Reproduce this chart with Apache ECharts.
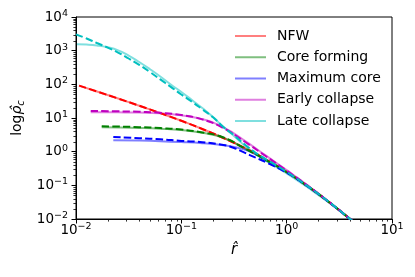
<!DOCTYPE html>
<html><head><meta charset="utf-8">
<script src="https://cdn.jsdelivr.net/npm/echarts@6/dist/echarts.min.js"></script>
<style>html,body{margin:0;padding:0;background:#fff}#c{width:415px;height:277px}</style>
</head><body><div id="c"></div>
<script>
const seriesNames = ['NFW','Core forming','Maximum core','Early collapse','Late collapse'];
const xTickValues = [0.01, 0.1, 1, 10];
const yTickValues = [0.01, 0.1, 1, 10, 100, 1000, 10000];

const nfwR = [0.0107,0.0158,0.0251,0.0398,0.0631,0.1,0.158,0.251,0.398,0.631,1,1.585,2.512,3.981,5.012];
const nfwRho = [91.4,61.3,37.9,23.2,14.0,8.26,4.72,2.55,1.29,0.596,0.25,0.0944,0.0323,0.0101,0.0055];

const coreR = [0.01755,0.0251,0.0398,0.0631,0.1,0.158,0.251,0.398,0.631,1,1.585,2.512,3.981,5.012];
const coreRhoSolid = [5.31,5.25,5.07,4.79,4.37,3.63,2.60,1.26,0.582,0.248,0.0933,0.032,0.0101,0.0055];
const coreRhoDashed = [5.66,5.56,5.35,5.01,4.52,3.72,2.63,1.26,0.575,0.245,0.0933,0.032,0.0101,0.0055];

const maxR = [0.0226,0.0398,0.0631,0.1,0.158,0.251,0.316,0.398,0.501,0.631,1,1.585,2.512,3.981,5.012];
const maxRhoSolid = [2.18,2.13,2.05,1.93,1.78,1.55,1.38,1.15,0.851,0.562,0.245,0.0933,0.032,0.0101,0.0055];
const maxRhoDashed = [2.72,2.51,2.34,2.09,1.91,1.58,1.29,0.933,0.676,0.49,0.237,0.0933,0.032,0.0101,0.0055];

const earlyR = [0.0138,0.0251,0.0398,0.0631,0.1,0.158,0.251,0.398,0.631,1,1.585,2.512,3.981,5.012];
const earlyRhoSolid = [14.8,14.7,14.5,13.8,12.0,9.23,5.25,2.14,0.776,0.282,0.0989,0.0324,0.0101,0.0055];
const earlyRhoDashed = [16.1,15.8,15.3,14.3,12.2,9.12,5.01,2.0,0.741,0.275,0.0977,0.0324,0.0101,0.0055];

const lateRSolid = [0.0102,0.0126,0.0158,0.02,0.0251,0.0316,0.0398,0.0501,0.0631,0.0794,0.1,0.126,0.158,0.2,0.251,0.316,0.398,0.501,0.631,1,1.585,2.512,3.981,5.012];
const lateRhoSolid = [1545,1514,1422,1257,1023,718,460,285,171,98.8,59.2,34.2,19.8,10.7,5.40,2.92,1.52,0.881,0.545,0.226,0.0861,0.0309,0.01,0.0054];
const lateRDashed = [0.01,0.0126,0.0158,0.02,0.0251,0.0316,0.0398,0.0501,0.0631,0.0794,0.1,0.126,0.158,0.2,0.251,0.316,0.398,0.501,0.631,1,1.585,2.512,3.981,5.012];
const lateRhoDashed = [3060,2296,1687,1233,881,585,380,235,140,84.4,50,30.5,18.2,10.5,5.40,3.06,1.66,0.957,0.605,0.251,0.0944,0.0324,0.0101,0.0055];

const lightColors = ['rgba(255,0,0,0.5)','rgba(0,128,0,0.5)','rgba(0,0,255,0.5)','rgba(191,0,191,0.5)','rgba(0,191,191,0.5)'];
const darkColors = ['#ff0000','#008000','#0000ff','#bf00bf','#00bfbf'];

const FONT = 'DejaVu Sans';
function pairs(r, rho){ return r.map((x,i)=>[x, rho[i]]); }
function solid(i, r, rho){
  return {name: seriesNames[i], type:'line', data: pairs(r,rho), symbol:'none', showSymbol:false, smooth:true,
    lineStyle:{color: lightColors[i], width:2}, itemStyle:{color: lightColors[i]}, z:2, silent:true};
}
function dashed(i, r, rho){
  return {name: seriesNames[i] + ' (dashed)', type:'line', data: pairs(r,rho), symbol:'none', showSymbol:false, smooth:true,
    lineStyle:{color: darkColors[i], width:2, type:[7.4,3.2]}, itemStyle:{color: darkColors[i]}, z:3, silent:true};
}
function fmt(v){
  const e = Math.round(Math.log10(v));
  return '{b|10}{s|' + String(e).replace('-', '\u2212') + '}';
}
const tickRich = {
  b:{fontSize:13.5, fontFamily:FONT, color:'#000', lineHeight:17, verticalAlign:'middle'},
  s:{fontSize:9.5, fontFamily:FONT, color:'#000', lineHeight:9, verticalAlign:'top'}
};

const chart = echarts.init(document.getElementById('c'), null, {renderer:'canvas'});
const option = {
  animation:false,
  backgroundColor:'#fff',
  grid:{left:76, right:23, top:17, bottom:58, show:true, borderColor:'#000', borderWidth:1, containLabel:false, outerBoundsMode:'none'},
  legend:{data: seriesNames.map((n,i)=>({name:n, itemStyle:{color:lightColors[i]}})), orient:'vertical', left:230, top:24, icon:'rect', itemWidth:31, itemHeight:2, itemGap:7.25,
    selectedMode:false, textStyle:{fontFamily:FONT, fontSize:14, color:'#000', lineHeight:14, padding:[0,0,0,6]}},
  xAxis:{type:'log', logBase:10, min:xTickValues[0], max:xTickValues[xTickValues.length-1], interval:1,
    name:'r\u0302', nameLocation:'middle', nameGap:22,
    nameTextStyle:{fontFamily:FONT, fontSize:15, fontStyle:'italic', color:'#000'},
    axisLine:{show:true, lineStyle:{color:'#000', width:1}},
    axisTick:{show:true, length:4.5, lineStyle:{color:'#000', width:1}},
    splitLine:{show:false},
    axisLabel:{margin:3, formatter:fmt, rich:tickRich, color:'#000'}},
  yAxis:{type:'log', logBase:10, min:yTickValues[0], max:yTickValues[yTickValues.length-1], interval:1,
    name:'{t|log}{r|\u03c1\u0302}{c|c}', nameLocation:'middle', nameGap:38, nameRotate:90,
    nameTextStyle:{rich:{
      t:{fontFamily:FONT, fontSize:14, color:'#000', verticalAlign:'middle', lineHeight:18},
      r:{fontFamily:FONT, fontSize:14, fontStyle:'italic', color:'#000', verticalAlign:'middle', lineHeight:18},
      c:{fontFamily:FONT, fontSize:10, fontStyle:'italic', color:'#000', verticalAlign:'bottom', lineHeight:12}}},
    axisLine:{show:true, lineStyle:{color:'#000', width:1}},
    axisTick:{show:true, length:4.5, lineStyle:{color:'#000', width:1}},
    splitLine:{show:false},
    axisLabel:{margin:8, formatter:fmt, rich:tickRich, color:'#000'}},
  series:[
    solid(0, nfwR, nfwRho), solid(1, coreR, coreRhoSolid), solid(2, maxR, maxRhoSolid),
    solid(3, earlyR, earlyRhoSolid), solid(4, lateRSolid, lateRhoSolid),
    dashed(0, nfwR, nfwRho), dashed(1, coreR, coreRhoDashed), dashed(2, maxR, maxRhoDashed),
    dashed(3, earlyR, earlyRhoDashed), dashed(4, lateRDashed, lateRhoDashed)
  ]
};
chart.setOption(option);

// minor ticks placed through the axes' own scale
const g = [];
const x0 = chart.convertToPixel({yAxisIndex:0}, yTickValues[0]);
const yLeft = chart.convertToPixel({xAxisIndex:0}, xTickValues[0]);
for (let d = 0; d < xTickValues.length - 1; d++) {
  for (let k = 2; k <= 9; k++) {
    const px = Math.round(chart.convertToPixel({xAxisIndex:0}, k * xTickValues[d])) + 0.5;
    g.push({type:'line', shape:{x1:px, y1:x0, x2:px, y2:x0 + 2.6}, style:{stroke:'#000', lineWidth:0.8}, silent:true});
  }
}
for (let d = 0; d < yTickValues.length - 1; d++) {
  for (let k = 2; k <= 9; k++) {
    const py = Math.round(chart.convertToPixel({yAxisIndex:0}, k * yTickValues[d])) + 0.5;
    g.push({type:'line', shape:{x1:yLeft - 2.6, y1:py, x2:yLeft, y2:py}, style:{stroke:'#000', lineWidth:0.8}, silent:true});
  }
}
chart.setOption({graphic: g});
</script>
</body></html>
